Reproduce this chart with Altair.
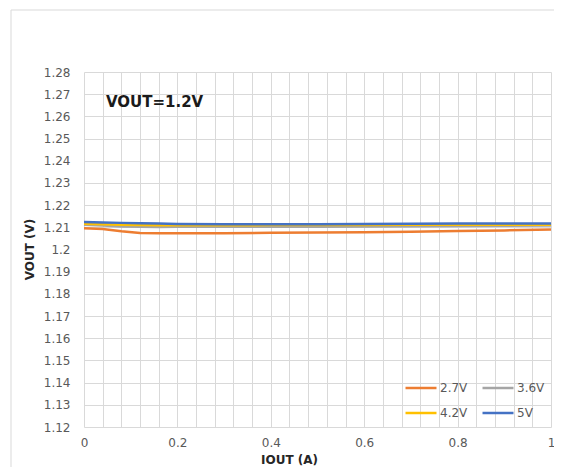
import altair as alt
import pandas as pd

# ---- data ----
iout = [0, 0.04, 0.08, 0.12, 0.16, 0.2, 0.3, 0.4, 0.5, 0.6, 0.7, 0.8, 0.9, 1.0]
v27 = [1.2096, 1.2092, 1.2082, 1.2074, 1.2073, 1.2073, 1.2073, 1.2075, 1.2077, 1.2078, 1.2080, 1.2083, 1.2086, 1.2090]
v36 = [1.2112, 1.2108, 1.2104, 1.2102, 1.2101, 1.2102, 1.2102, 1.2103, 1.2103, 1.2104, 1.2105, 1.2106, 1.2107, 1.2108]
v42 = [1.2116, 1.2114, 1.2112, 1.2110, 1.2109, 1.2109, 1.2109, 1.2110, 1.2110, 1.2110, 1.2111, 1.2112, 1.2112, 1.2112]
v50 = [1.2124, 1.2122, 1.2120, 1.2118, 1.2117, 1.2115, 1.2114, 1.2114, 1.2114, 1.2115, 1.2116, 1.2117, 1.2117, 1.2117]

series_names = ["2.7V", "3.6V", "4.2V", "5V"]
series_colors = ["#ED7D31", "#A5A5A5", "#FFC000", "#4472C4"]

x_ticks = [round(i * 0.04, 2) for i in range(26)]
y_ticks = [round(1.12 + i * 0.01, 2) for i in range(17)]

annotation = "VOUT=1.2V"

rows = []
for name, vals in zip(series_names, [v27, v36, v42, v50]):
    for x, y in zip(iout, vals):
        rows.append({"IOUT": x, "VOUT": y, "Series": name})
df = pd.DataFrame(rows)

FONT = "DejaVu Sans"

x_enc = alt.X(
    "IOUT:Q",
    scale=alt.Scale(domain=[0, 1], nice=False),
    axis=alt.Axis(
        values=x_ticks,
        labelExpr="(round(datum.value*25) % 5 == 0) ? format(datum.value, '~g') : ''",
        labelOverlap=False,
        labelFlush=False,
        title="IOUT (A)",
        titleX=205,
        titleY=32,
        titleAlign="center",
        titleBaseline="middle",
        labelPadding=10,
    ),
)
y_enc = alt.Y(
    "VOUT:Q",
    scale=alt.Scale(domain=[1.12, 1.28], nice=False, zero=False),
    axis=alt.Axis(
        values=y_ticks,
        format="~g",
        labelOverlap=False,
        title="VOUT (V)",
        titleX=-55,
        titleY=177,
        titleAngle=270,
        titleAlign="center",
        titleBaseline="middle",
        labelPadding=14,
    ),
)

frame = alt.Chart(pd.DataFrame({"a": [0]})).mark_rect(
    filled=False, stroke="#D9D9D9", strokeWidth=1
).encode(
    x=alt.value(-73), x2=alt.value(490), y=alt.value(-62), y2=alt.value(420)
)

lines = alt.Chart(df).mark_line(strokeWidth=2.5).encode(
    x=x_enc,
    y=y_enc,
    color=alt.Color(
        "Series:N",
        scale=alt.Scale(domain=series_names, range=series_colors),
        sort=series_names,
        legend=alt.Legend(
            title=None,
            orient="none",
            direction="horizontal",
            legendX=328,
            legendY=307,
            columns=2,
            symbolType="M-2,0H2",
            symbolSize=240,
            symbolStrokeWidth=2.5,
            labelFontSize=12,
            labelFont=FONT,
            labelColor="#595959",
            labelOffset=10,
            columnPadding=9,
            rowPadding=10,
            padding=0,
        ),
    ),
    order=alt.Order("Series:N"),
)

label_df = pd.DataFrame({"IOUT": [0.047], "VOUT": [1.2663], "t": [annotation]})
label = alt.Chart(label_df).mark_text(
    align="left", baseline="middle", font=FONT, fontSize=15, fontWeight="bold", color="#1a1a1a"
).encode(x=x_enc, y=y_enc, text="t:N")

chart = alt.layer(frame, lines, label).properties(
    width=467,
    height=355,
    autosize=alt.AutoSizeParams(type="none"),
    padding={"left": 76, "top": 64, "right": 3, "bottom": 40},
).configure_axis(
    grid=True,
    gridColor="#D9D9D9",
    gridWidth=1,
    domain=False,
    ticks=False,
    labelFont=FONT,
    labelFontSize=12,
    labelColor="#595959",
    titleFont=FONT,
    titleFontSize=12,
    titleFontWeight="bold",
    titleColor="#262626",
).configure_view(
    stroke=None
)

chart.save("out.html", embed_options={"renderer": "svg", "actions": False})
